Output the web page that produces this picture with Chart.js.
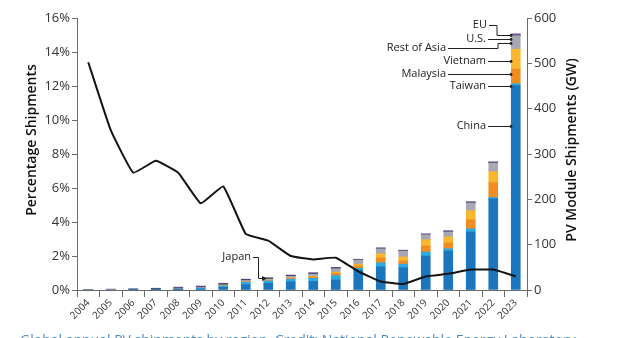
<!DOCTYPE html>
<html>
<head>
<meta charset="utf-8">
<script src="https://cdn.jsdelivr.net/npm/chart.js@4"></script>
<style>
  html, body { margin: 0; padding: 0; background: #fff; overflow: hidden; }
  #wrap { position: relative; width: 632px; height: 338px; }
  #caption {
    position: absolute; left: 20px; top: 330px; white-space: nowrap;
    font: 14px "Open Sans", sans-serif; color: #4f86c6;
  }
</style>
</head>
<body>
<div id="wrap">
  <canvas id="chart" width="632" height="338"></canvas>
  <div id="caption">Global annual PV shipments by region. Credit: National Renewable Energy Laboratory</div>
</div>
<script>
const years = ["2004", "2005", "2006", "2007", "2008", "2009", "2010", "2011", "2012", "2013",
  "2014", "2015", "2016", "2017", "2018", "2019", "2020", "2021", "2022", "2023"];

// module shipments, GW
const china      = [0, 0, 0.1, 0.2, 0.5, 2, 6, 12, 15, 18, 19, 22, 44, 51, 49, 75, 86, 128, 201, 451];
const taiwan     = [0, 0, 0.1, 0.2, 0.5, 1.5, 3, 5, 5, 6, 7, 10, 4, 9, 8, 9, 5, 7, 3, 4];
const malaysia   = [0, 0, 0, 0, 0, 0, 0.5, 1, 1, 2, 3, 5, 5, 11, 7, 13, 13, 20, 33, 32];
const vietnam    = [0, 0, 0, 0, 0, 0, 0, 0, 1, 1, 1, 2, 4, 9, 9, 14, 13, 20, 24, 44];
const restOfAsia = [0.4, 0.6, 0.8, 1.2, 2, 2, 2, 3, 2, 3, 5, 8, 9, 11, 13, 11, 11, 17, 19, 30];
const japan      = [0.6, 0.8, 0.9, 1.2, 1.5, 1.5, 2, 2, 2, 2, 2, 1.5, 1, 1, 1, 0.5, 0.5, 0.5, 0.5, 0.5];
const us         = [0.2, 0.2, 0.2, 0.4, 0.5, 0.5, 0.5, 0.5, 0.5, 0.5, 0.5, 0.8, 0.5, 0.5, 0.5, 1, 1.5, 1.5, 1.5, 2];
const eu         = [0.3, 0.4, 0.4, 0.8, 1.5, 1.5, 1, 0.5, 0.5, 0.5, 0.5, 0.7, 0.5, 0.5, 0.5, 0.5, 1, 1, 1, 2];

// percentage line, left axis
const percentShipments = [13.4, 9.4, 6.9, 7.6, 6.9, 5.1, 6.1, 3.3, 2.9, 2.0,
  1.8, 1.9, 1.1, 0.5, 0.35, 0.8, 0.95, 1.2, 1.2, 0.8];

const series = [
  { label: "China", data: china, colour: "#1b76bd" },
  { label: "Taiwan", data: taiwan, colour: "#2eaae3" },
  { label: "Malaysia", data: malaysia, colour: "#f08d22" },
  { label: "Vietnam", data: vietnam, colour: "#fbb630" },
  { label: "Rest of Asia", data: restOfAsia, colour: "#a8a8b4" },
  { label: "Japan", data: japan, colour: "#3a3f6c" },
  { label: "U.S.", data: us, colour: "#55587a" },
  { label: "EU", data: eu, colour: "#9a70c8" },
];

const font = "'Open Sans', sans-serif";
const axisColour = "#6b6b6b";

// label text, right end x, text y, leader line points
const callouts = [
  { text: "EU", x: 487, y: 25, path: [[489, 25], [497, 25], [497, 35], [511, 35]] },
  { text: "U.S.", x: 486, y: 39, path: [[488, 39], [511, 39]] },
  { text: "Rest of Asia", x: 446, y: 48, path: [[448, 48], [498, 48], [498, 43], [511, 43]] },
  { text: "Vietnam", x: 486, y: 61, path: [[488, 61], [511, 61]] },
  { text: "Malaysia", x: 446, y: 74, path: [[448, 74], [511, 74]] },
  { text: "Taiwan", x: 486, y: 86, path: [[488, 86], [511, 86]] },
  { text: "China", x: 486, y: 126, path: [[488, 126], [511, 126]] },
];

const annotations = {
  id: "annotations",
  afterDraw(chart) {
    const ctx = chart.ctx;
    ctx.save();

    // axis titles
    ctx.fillStyle = "#111";
    ctx.font = "600 14px " + font;
    ctx.textAlign = "center";
    ctx.textBaseline = "middle";
    ctx.save();
    ctx.translate(32, 140);
    ctx.rotate(-Math.PI / 2);
    ctx.fillText("Percentage Shipments", 0, 0);
    ctx.restore();
    ctx.save();
    ctx.translate(572, 150);
    ctx.rotate(-Math.PI / 2);
    ctx.fillText("PV Module Shipments (GW)", 0, 0);
    ctx.restore();

    // region callouts
    ctx.font = "11px " + font;
    ctx.textAlign = "right";
    ctx.fillStyle = "#222";
    ctx.strokeStyle = "#222";
    ctx.lineWidth = 1;
    callouts.forEach((c) => {
      ctx.fillText(c.text, c.x, c.y);
      ctx.beginPath();
      c.path.forEach(([px, py], i) => (i ? ctx.lineTo(px, py + 0.5) : ctx.moveTo(px, py + 0.5)));
      ctx.stroke();
      const end = c.path[c.path.length - 1];
      ctx.beginPath();
      ctx.arc(end[0], end[1] + 0.5, 1.4, 0, Math.PI * 2);
      ctx.fill();
    });

    // Japan arrow
    ctx.fillText("Japan", 251, 257);
    ctx.beginPath();
    ctx.moveTo(253, 257.5);
    ctx.lineTo(258.5, 257.5);
    ctx.lineTo(258.5, 278.5);
    ctx.lineTo(264, 278.5);
    ctx.stroke();
    ctx.beginPath();
    ctx.moveTo(267, 278.5);
    ctx.lineTo(262, 276);
    ctx.lineTo(262, 281);
    ctx.closePath();
    ctx.fill();

    ctx.restore();
  },
};

const datasets = series.map((s) => ({
  type: "bar",
  label: s.label,
  data: s.data,
  backgroundColor: s.colour,
  borderWidth: 0,
  yAxisID: "y1",
  stack: "gw",
  order: 1,
  barThickness: 9,
}));

datasets.push({
  type: "line",
  label: "Percentage",
  data: percentShipments,
  borderColor: "#141414",
  borderWidth: 2,
  pointRadius: 0,
  tension: 0.1,
  yAxisID: "y",
  order: 0,
});

new Chart(document.getElementById("chart"), {
  data: { labels: years, datasets: datasets },
  plugins: [annotations],
  options: {
    responsive: false,
    animation: false,
    layout: { padding: { top: 18 } },
    plugins: { legend: { display: false }, tooltip: { enabled: false } },
    scales: {
      x: {
        stacked: true,
        offset: true,
        grid: { drawOnChartArea: false, offset: true, tickLength: 7, color: axisColour },
        border: { color: axisColour },
        ticks: { minRotation: 45, maxRotation: 45, padding: 0, color: "#333", font: { family: font, size: 10 } },
        afterFit: (scale) => { scale.height = 48; },
      },
      y: {
        position: "left",
        min: 0,
        max: 16,
        grid: { drawOnChartArea: false, tickLength: 5, color: axisColour },
        border: { color: axisColour },
        ticks: {
          stepSize: 2,
          padding: 2,
          color: "#333",
          font: { family: font, size: 13 },
          callback: (v) => v + "%",
        },
        afterFit: (scale) => { scale.width = 77; },
      },
      y1: {
        position: "right",
        stacked: true,
        min: 0,
        max: 600,
        grid: { drawOnChartArea: false, tickLength: 5, color: axisColour },
        border: { color: axisColour },
        ticks: { stepSize: 100, padding: 2, color: "#333", font: { family: font, size: 13 } },
        afterFit: (scale) => { scale.width = 105; },
      },
    },
  },
});
</script>
</body>
</html>
